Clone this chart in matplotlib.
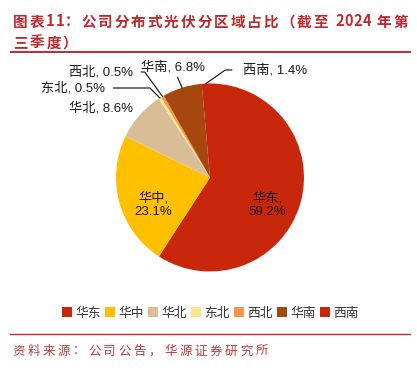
import matplotlib
matplotlib.use("Agg")
import matplotlib.pyplot as plt
from matplotlib.patches import Rectangle
import numpy as np

W, H = 417, 368

# data
regions = ["华东", "华中", "华北", "东北", "西北", "华南", "西南"]
shares = [59.2, 23.1, 8.6, 0.5, 0.5, 6.8, 1.4]
colors = ["#C8270B", "#FFC000", "#D9BD97", "#F8E68F", "#F7964A", "#A5470E", "#C8270B"]

title_1 = "图表11：公司分布式光伏分区域占比（截至 2024 年第"
title_2 = "三季度）"
source = "资料来源：公司公告，华源证券研究所"

RED = "#C0282D"
LBL_FONT = ["Liberation Sans", "Noto Sans CJK SC"]
LBL_SIZE = 9.5

fig = plt.figure(figsize=(W / 100, H / 100), dpi=100)

# pie centre / radius in pixels
cx, cy, r = 210, 177.5, 94
ax = fig.add_axes([(cx - r) / W, (H - cy - r) / H, 2 * r / W, 2 * r / H])
wedges, _ = ax.pie(shares, colors=colors, startangle=90, counterclock=False,
                   radius=1, wedgeprops=dict(linewidth=0))
ax.set_xlim(-1, 1)
ax.set_ylim(-1, 1)
ax.set_aspect("equal")
ax.axis("off")


def px2data(px, py):
    return ((px - cx) / r, (cy - py) / r)


def label(i):
    return "%s, %.1f%%" % (regions[i], shares[i])


# inside labels
for i, (px, py) in [(0, (267, 205)), (1, (153, 205))]:
    ax.text(*px2data(px, py), "%s,\n%.1f%%" % (regions[i], shares[i]),
            ha="center", va="center", fontsize=LBL_SIZE, family=LBL_FONT,
            color="#1a1a1a", linespacing=1.1)

# 华北 without leader line
ax.text(*px2data(101, 108), label(2), ha="center", va="center",
        fontsize=LBL_SIZE, family=LBL_FONT, color="#1a1a1a")


def edge_point(i):
    w = wedges[i]
    mid = np.deg2rad((w.theta1 + w.theta2) / 2)
    return (np.cos(mid), np.sin(mid))


# outer labels with leader lines: index, text pos (px), ha, relpos, connection
outer = [
    (3, (105, 88), "right", (1, 0.5), "angle,angleA=0,angleB=135,rad=0", 4),
    (4, (133, 72), "right", (1, 0.5), "angle,angleA=0,angleB=126,rad=0", 4),
    (5, (173, 67), "center", (0.5, 0.5), "arc3,rad=0", 1),
    (6, (243, 70), "left", (0, 0.5), "angle,angleA=0,angleB=35,rad=0", 6),
]
for i, (px, py), ha, rel, conn, shA in outer:
    ax.annotate(label(i), xy=edge_point(i), xytext=px2data(px, py),
                ha=ha, va="center", fontsize=LBL_SIZE, family=LBL_FONT,
                color="#1a1a1a", annotation_clip=False,
                arrowprops=dict(arrowstyle="-", color="#222222", lw=0.9,
                                connectionstyle=conn, relpos=rel,
                                shrinkA=shA, shrinkB=0))

# legend, laid out by hand so every entry sits on the same baseline
leg_x0, leg_step, leg_y, box = 62, 43, 312, 10
for k, (name, c) in enumerate(zip(regions, colors)):
    x = leg_x0 + k * leg_step
    fig.add_artist(Rectangle((x / W, (H - leg_y - box / 2) / H), box / W, box / H,
                             facecolor=c, edgecolor="none",
                             transform=fig.transFigure))
    fig.text((x + box + 3) / W, 1 - (leg_y + 4.5) / H, name, ha="left",
             va="baseline", fontsize=9.2, family="Noto Sans CJK SC",
             color="#333333")


def spaced(x0, y, s, step, size, **kw):
    # draw one glyph at a time, baseline aligned, to copy the letter spacing
    x = x0
    for ch in s:
        fig.text(x / W, 1 - y / H, ch, ha="left", va="baseline", fontsize=size,
                 family="Noto Sans CJK SC", **kw)
        if ch == " ":
            x += step * 0.3
        elif ord(ch) < 256:
            x += step * 0.55
        else:
            x += step


# title
spaced(13, 26.5, title_1, 16.6, 10.5, color=RED, fontweight="bold")
spaced(13, 47.5, title_2, 16.6, 10.5, color=RED, fontweight="bold")
fig.add_artist(plt.Line2D([11 / W, 410 / W], [1 - 52 / H, 1 - 52 / H],
                          color=RED, lw=1.4))

# source
fig.add_artist(plt.Line2D([10 / W, 410 / W], [1 - 334 / H, 1 - 334 / H],
                          color=RED, lw=1.0))
spaced(12, 354.5, source, 15.2, 9, color="#C0393B")

fig.savefig("out.png", dpi=100)
